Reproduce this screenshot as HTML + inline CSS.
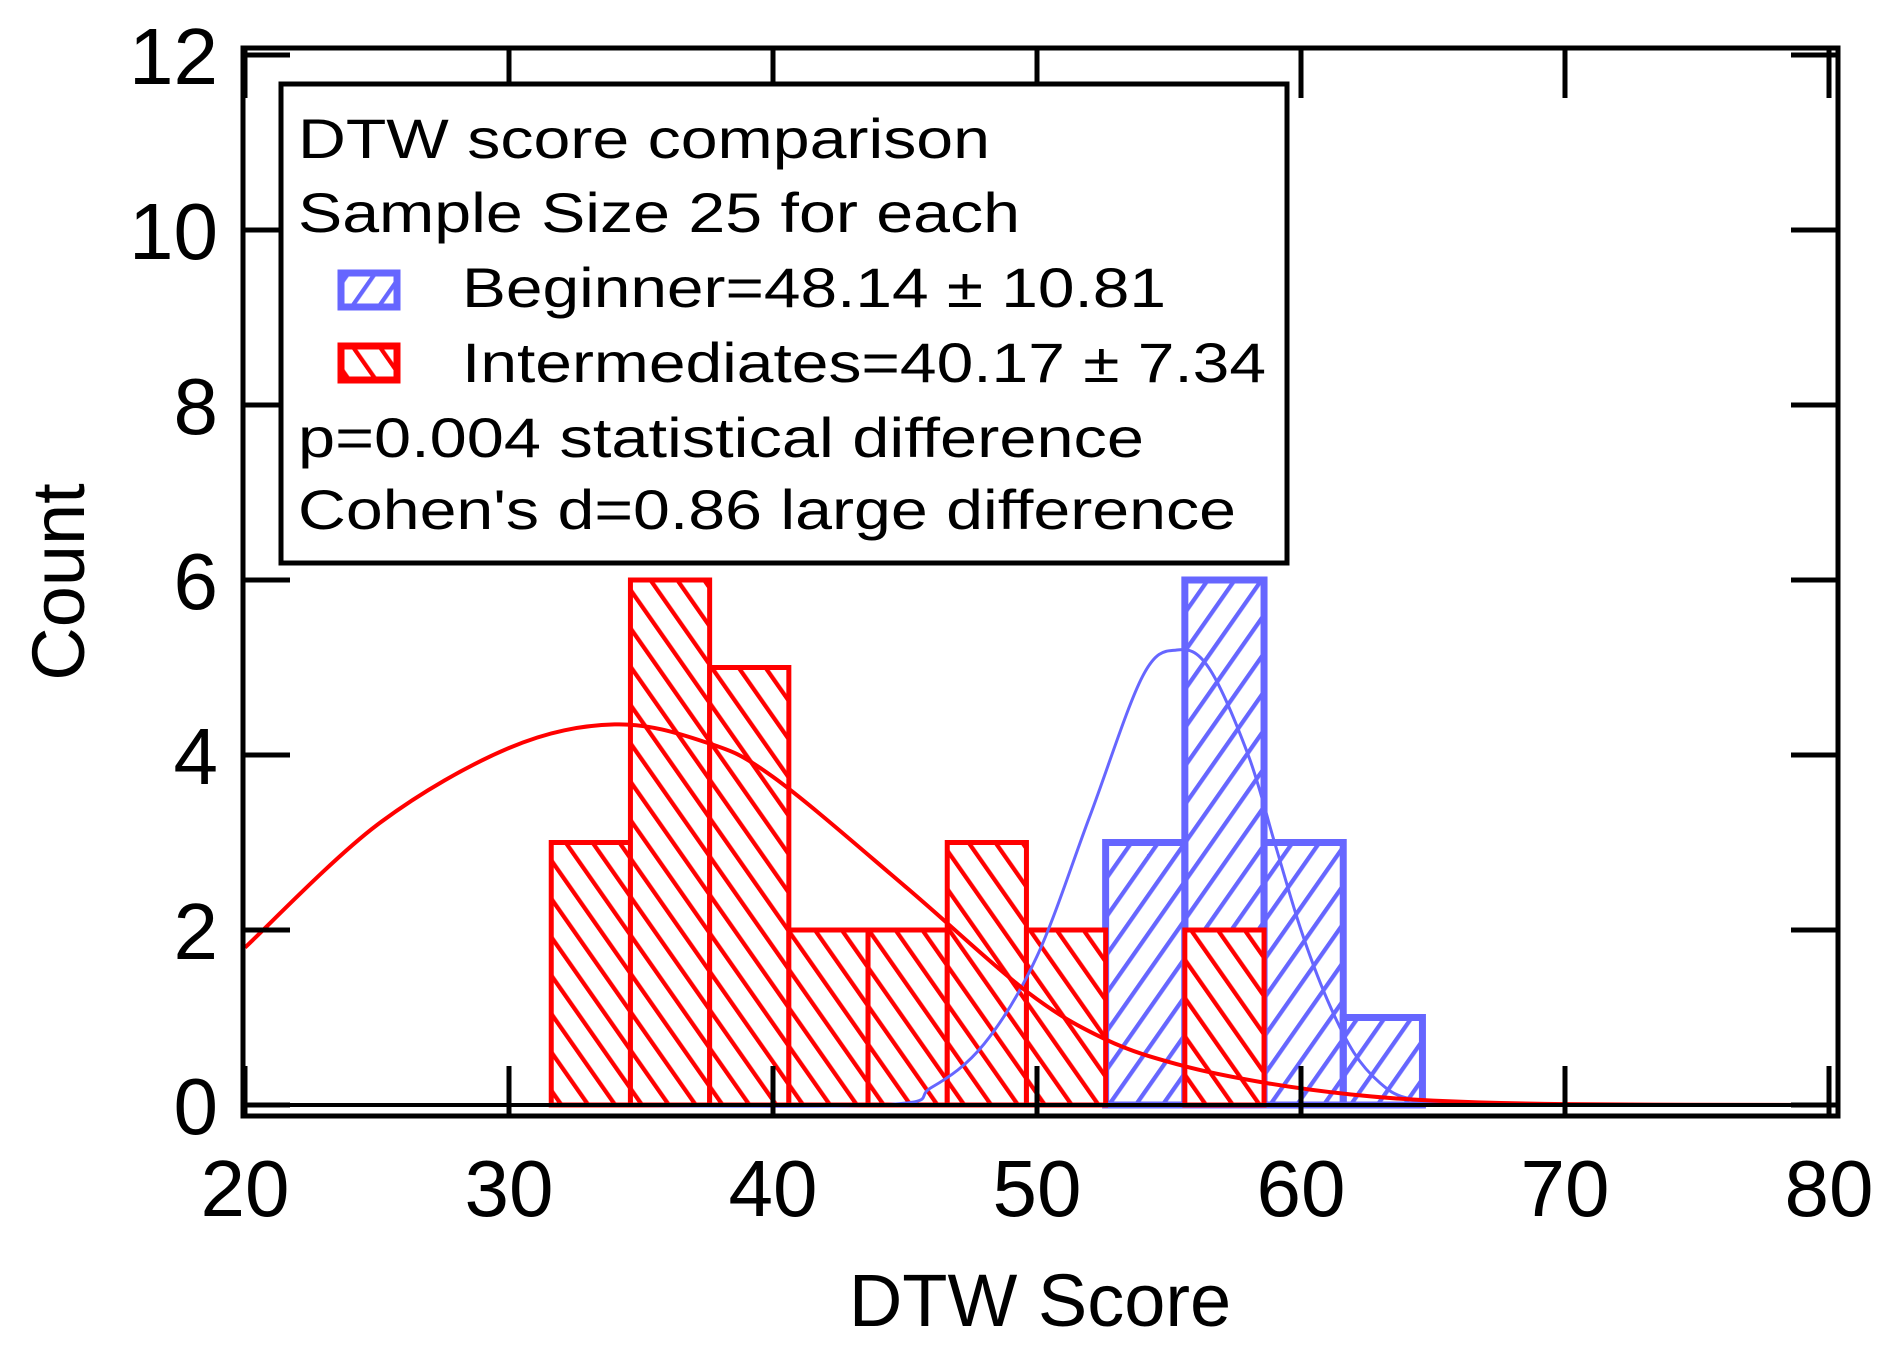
<!DOCTYPE html>
<html><head><meta charset="utf-8"><style>
html,body{margin:0;padding:0;background:#fff;}
svg{display:block;font-family:"Liberation Sans",sans-serif;}
</style></head><body>
<svg id="chart" width="1879" height="1349" viewBox="0 0 1879 1349" xmlns="http://www.w3.org/2000/svg">
<defs>
<pattern id="hatchRed" patternUnits="userSpaceOnUse" width="22" height="22" patternTransform="rotate(-35)">
<rect width="22" height="22" fill="#fff"/>
<line x1="2" y1="0" x2="2" y2="22" stroke="#ff0000" stroke-width="4.5"/>
</pattern>
<pattern id="hatchBlue" patternUnits="userSpaceOnUse" width="22" height="22" patternTransform="rotate(35)">
<line x1="2" y1="0" x2="2" y2="22" stroke="#6666ff" stroke-width="4.5"/>
</pattern>
</defs>
<g id="marks"></g>
<g id="axes"></g>
<g id="legend">
<rect x="281" y="84" width="1006" height="479" fill="#fff" stroke="#000" stroke-width="5"/>
<text x="298" y="158" font-size="56" textLength="692" lengthAdjust="spacingAndGlyphs">DTW score comparison</text>
<text x="298" y="232" font-size="56" textLength="722" lengthAdjust="spacingAndGlyphs">Sample Size 25 for each</text>
<rect x="341" y="273" width="56" height="34" fill="url(#hatchBlue)" stroke="#6666ff" stroke-width="7"/>
<text x="462" y="307" font-size="56" textLength="704" lengthAdjust="spacingAndGlyphs">Beginner=48.14 ± 10.81</text>
<rect x="341" y="346" width="56" height="34" fill="url(#hatchRed)" stroke="#ff0000" stroke-width="7"/>
<text x="462" y="382" font-size="56" textLength="804" lengthAdjust="spacingAndGlyphs">Intermediates=40.17 ± 7.34</text>
<text x="298" y="457" font-size="56" textLength="846" lengthAdjust="spacingAndGlyphs">p=0.004 statistical difference</text>
<text x="298" y="529" font-size="56" textLength="938" lengthAdjust="spacingAndGlyphs">Cohen's d=0.86 large difference</text>
</g>
<text x="1040" y="1326" font-size="74" text-anchor="middle">DTW Score</text>
<text x="0" y="0" font-size="74" text-anchor="middle" transform="translate(84,582) rotate(-90)">Count</text>
</svg>
<script>
const binStarts = [31.6,34.6,37.6,40.6,43.6,46.6,49.6,52.6,55.6,58.6,61.6];
const binWidth = 3.0;
const intermediateCounts = [3,6,5,2,2,3,2,0,2,0,0];
const beginnerCounts = [0,0,0,0,0,0,0,3,6,3,1];
const redCurveX = [20,25,30,34,37.4,40,45,49.6,52.6,55.5,58.7,61.9,65,70,80];
const redCurveY = [1.8,3.2,4.08,4.35,4.15,3.75,2.5,1.3,0.75,0.45,0.25,0.12,0.05,0.01,0];
const blueCurveX = [31.6,44,46,48,50,52,54,55.3,56.5,58,59,60,61,62,63,64,66,70];
const blueCurveY = [0,0,0.2,0.7,1.7,3.3,4.9,5.2,5.0,4.0,3.0,2.0,1.2,0.6,0.25,0.08,0.01,0];
const xTicks = [20,30,40,50,60,70,80];
const yTicks = [0,2,4,6,8,10,12];

const X0=245, X1=1829, Y0=1105, Y1=55;
const xs = v => X0 + (v-20)/60*(X1-X0);
const ys = v => Y0 - v/12*(Y0-Y1);
const NS="http://www.w3.org/2000/svg";
const marks=document.getElementById('marks');
const axes=document.getElementById('axes');
function mk(tag,attrs,parent){const e=document.createElementNS(NS,tag);for(const k in attrs)e.setAttribute(k,attrs[k]);parent.appendChild(e);return e;}

// blue bars
binStarts.forEach((b,i)=>{
  if(!beginnerCounts[i])return;
  const r=mk('rect',{x:xs(b),y:ys(beginnerCounts[i]),width:xs(b+binWidth)-xs(b),height:Y0-ys(beginnerCounts[i]),fill:'url(#hatchBlue)',stroke:'#6666ff','stroke-width':7},marks);
  
  
});
// red bars
binStarts.forEach((b,i)=>{
  if(!intermediateCounts[i])return;
  const r=mk('rect',{x:xs(b),y:ys(intermediateCounts[i]),width:xs(b+binWidth)-xs(b),height:Y0-ys(intermediateCounts[i]),fill:'url(#hatchRed)',stroke:'#ff0000','stroke-width':5},marks);
  
  
});
function curve(xa,ya,color,w,name){
  const P=xa.map((x,i)=>[xs(x),ys(ya[i])]);
  let d='M'+P[0][0].toFixed(1)+','+P[0][1].toFixed(1);
  for(let i=0;i<P.length-1;i++){
    const p0=P[Math.max(0,i-1)],p1=P[i],p2=P[i+1],p3=P[Math.min(P.length-1,i+2)];
    const c1=[p1[0]+(p2[0]-p0[0])/6,p1[1]+(p2[1]-p0[1])/6];
    const c2=[p2[0]-(p3[0]-p1[0])/6,p2[1]-(p3[1]-p1[1])/6];
    d+=' C'+c1.map(v=>v.toFixed(1)).join(',')+' '+c2.map(v=>v.toFixed(1)).join(',')+' '+p2.map(v=>v.toFixed(1)).join(',');
  }
  const p=mk('path',{d:d,fill:'none',stroke:color,'stroke-width':w,'stroke-linejoin':'round'},marks);
  
  
}
curve(blueCurveX,blueCurveY,'#6666ff',3,'beginner-fit-curve');
curve(redCurveX,redCurveY,'#ff0000',4,'intermediates-fit-curve');

// frame
const f=mk('rect',{x:243,y:48,width:1595,height:1068,fill:'none',stroke:'#000','stroke-width':5},axes);


const zl=mk('line',{x1:243,y1:Y0,x2:1838,y2:Y0,stroke:'#000','stroke-width':4},axes);


xTicks.forEach(t=>{
  const x=xs(t);
  mk('line',{x1:x,y1:1116,x2:x,y2:1066,stroke:'#000','stroke-width':5},axes);
  mk('line',{x1:x,y1:48,x2:x,y2:98,stroke:'#000','stroke-width':5},axes);
  const tx=mk('text',{x:x,y:1216,'font-size':80,'text-anchor':'middle'},axes);
  tx.textContent=t;
  
  
});
yTicks.forEach(t=>{
  const y=ys(t);
  mk('line',{x1:243,y1:y,x2:290,y2:y,stroke:'#000','stroke-width':5},axes);
  mk('line',{x1:1838,y1:y,x2:1791,y2:y,stroke:'#000','stroke-width':5},axes);
  const tx=mk('text',{x:218,y:y+29,'font-size':80,'text-anchor':'end'},axes);
  tx.textContent=t;
  
  
});
</script>
</body></html>
